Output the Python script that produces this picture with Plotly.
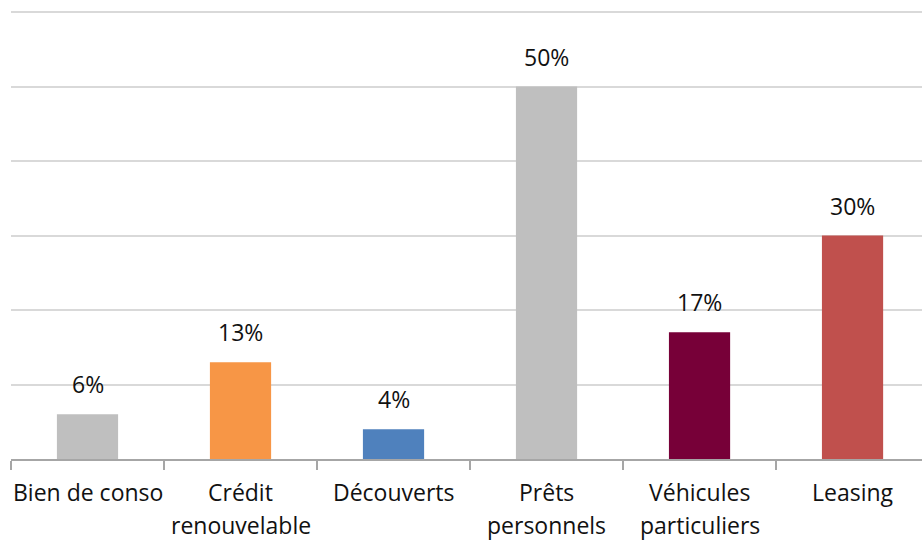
import plotly.graph_objects as go

# Répartition par type de crédit
categories = ["Bien de conso", "Crédit renouvelable", "Découverts",
              "Prêts personnels", "Véhicules particuliers", "Leasing"]
label_lines = [["Bien de conso"], ["Crédit", "renouvelable"], ["Découverts"],
               ["Prêts", "personnels"], ["Véhicules", "particuliers"], ["Leasing"]]
values = [6, 13, 4, 50, 17, 30]
colors = ["#bfbfbf", "#f79646", "#4f81bd", "#bfbfbf", "#770038", "#c0504d"]

FONT = "Open Sans"
TXT = "#111111"

fig = go.Figure()
fig.add_trace(go.Bar(
    x=list(range(len(categories))),
    y=values,
    width=0.4,
    marker=dict(color=colors, line=dict(width=0)),
    hovertext=categories,
))

annotations = []
# value labels above bars
for i, v in enumerate(values):
    annotations.append(dict(
        x=i, y=v, xref="x", yref="y", text=f"{v}%", showarrow=False,
        yanchor="bottom", yshift=12,
        font=dict(family=FONT, size=23, color=TXT),
    ))
# category labels (one annotation per line for Excel-like line spacing)
for i, lines in enumerate(label_lines):
    for j, line in enumerate(lines):
        annotations.append(dict(
            x=i, y=0, xref="x", yref="paper", text=line, showarrow=False,
            yanchor="middle", yshift=-33 - 33 * j,
            font=dict(family=FONT, size=23, color=TXT),
        ))

fig.update_layout(
    width=922, height=543,
    margin=dict(l=11, r=0, t=10, b=84),
    paper_bgcolor="white", plot_bgcolor="white",
    showlegend=False,
    annotations=annotations,
)
fig.update_xaxes(
    type="linear",
    range=[-0.5, 5.454],
    tickmode="array",
    tickvals=[-0.5, 0.5, 1.5, 2.5, 3.5, 4.5],
    ticktext=[""] * 6,
    ticks="outside", ticklen=9, tickwidth=2, tickcolor="#a6a6a6",
    showline=True, linecolor="#a6a6a6", linewidth=2,
    showgrid=False, zeroline=False, fixedrange=True,
)
fig.update_yaxes(
    range=[0, 60.27],
    tickmode="array", tickvals=[10, 20, 30, 40, 50, 60],
    showticklabels=False,
    showgrid=True, gridcolor="#d9d9d9", gridwidth=2,
    zeroline=False, showline=False, fixedrange=True,
)

fig.write_html("out.html", config={"displayModeBar": False})
